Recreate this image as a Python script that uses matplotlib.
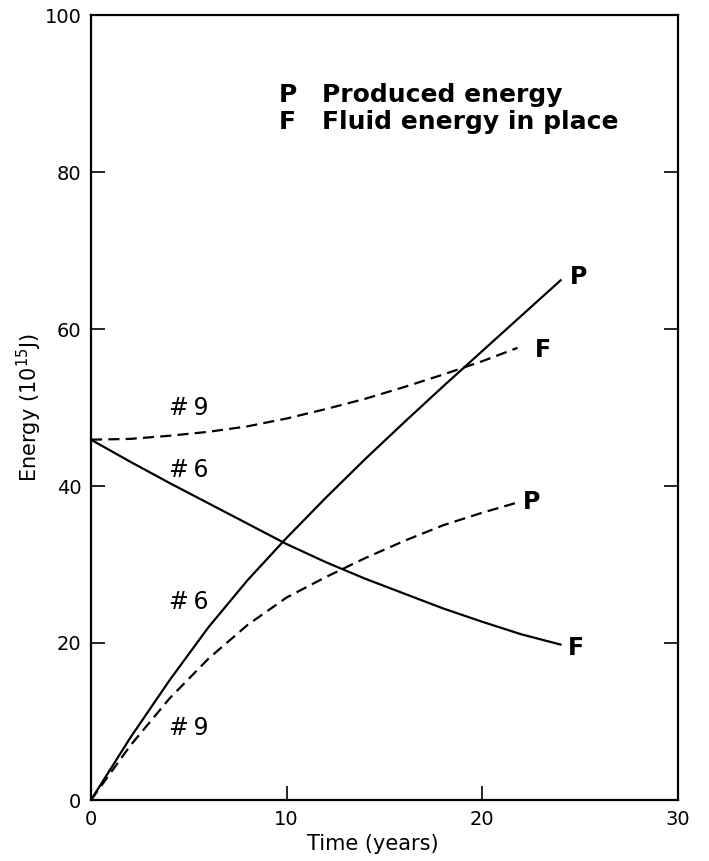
import numpy as np
import matplotlib.pyplot as plt

plt.rcParams['font.family'] = ['DejaVu Sans']

# case #6 (solid)
years_6 = [0, 2, 4, 6, 8, 10, 12, 14, 16, 18, 20, 22, 24]
produced_6 = [0, 7.9, 15.2, 22.0, 28.0, 33.4, 38.5, 43.4, 48.1, 52.7, 57.2, 61.7, 66.2]
fluid_6 = [45.9, 43.1, 40.4, 37.8, 35.2, 32.6, 30.3, 28.2, 26.3, 24.4, 22.7, 21.1, 19.8]

# case #9 (dashed)
years_9 = [0, 2, 4, 6, 8, 10, 12, 14, 16, 18, 20, 21.8]
produced_9 = [0, 6.9, 12.9, 18.0, 22.3, 25.8, 28.4, 30.8, 33.0, 35.0, 36.6, 37.9]
fluid_9 = [45.9, 46.0, 46.4, 46.9, 47.6, 48.6, 49.8, 51.1, 52.6, 54.2, 55.9, 57.6]

x_ticks = [0, 10, 20, 30]
y_ticks = [0, 20, 40, 60, 80, 100]

fig = plt.figure(figsize=(7.09, 8.61), dpi=100)
ax = fig.add_axes([91 / 709, 1 - 800 / 861, (678 - 91) / 709, (800 - 15) / 861])

dash = (0, (5, 2.8))
ax.plot(years_6, produced_6, color='black', lw=1.6)
ax.plot(years_6, fluid_6, color='black', lw=1.6)
ax.plot(years_9, produced_9, color='black', lw=1.6, linestyle=dash)
ax.plot(years_9, fluid_9, color='black', lw=1.6, linestyle=dash)

ax.set_xlim(0, 30)
ax.set_ylim(0, 100)
ax.set_xticks(x_ticks)
ax.set_yticks(y_ticks)
ax.tick_params(direction='in', length=10, width=1.2, labelsize=14, right=True, pad=7)
for s in ax.spines.values():
    s.set_linewidth(1.6)

ax.set_xlabel('Time (years)', fontsize=15)
ax.set_ylabel('Energy (10$^{15}$J)', fontsize=15)
ax.xaxis.set_label_coords(0.48, -0.043)
ax.yaxis.set_label_coords(-0.08, 0.5)

# curve labels
lbl = dict(fontsize=17, ha='left', va='center')
ax.text(4.0, 50.0, '#\u20099', **lbl)
ax.text(4.0, 42.0, '#\u20096', **lbl)
ax.text(4.0, 25.2, '#\u20096', **lbl)
ax.text(4.0, 9.2, '#\u20099', **lbl)

end = dict(fontsize=17, fontweight='bold', ha='center', va='center')
ax.text(24.9, 66.6, 'P', **end)
ax.text(23.1, 57.3, 'F', **end)
ax.text(22.5, 38.0, 'P', **end)
ax.text(24.8, 19.3, 'F', **end)

leg = dict(fontsize=18, fontweight='bold', ha='left', va='center')
ax.text(9.6, 89.8, 'P', **leg)
ax.text(11.8, 89.8, 'Produced energy', **leg)
ax.text(9.6, 86.4, 'F', **leg)
ax.text(11.8, 86.4, 'Fluid energy in place', **leg)

fig.savefig('out.png', dpi=100)
